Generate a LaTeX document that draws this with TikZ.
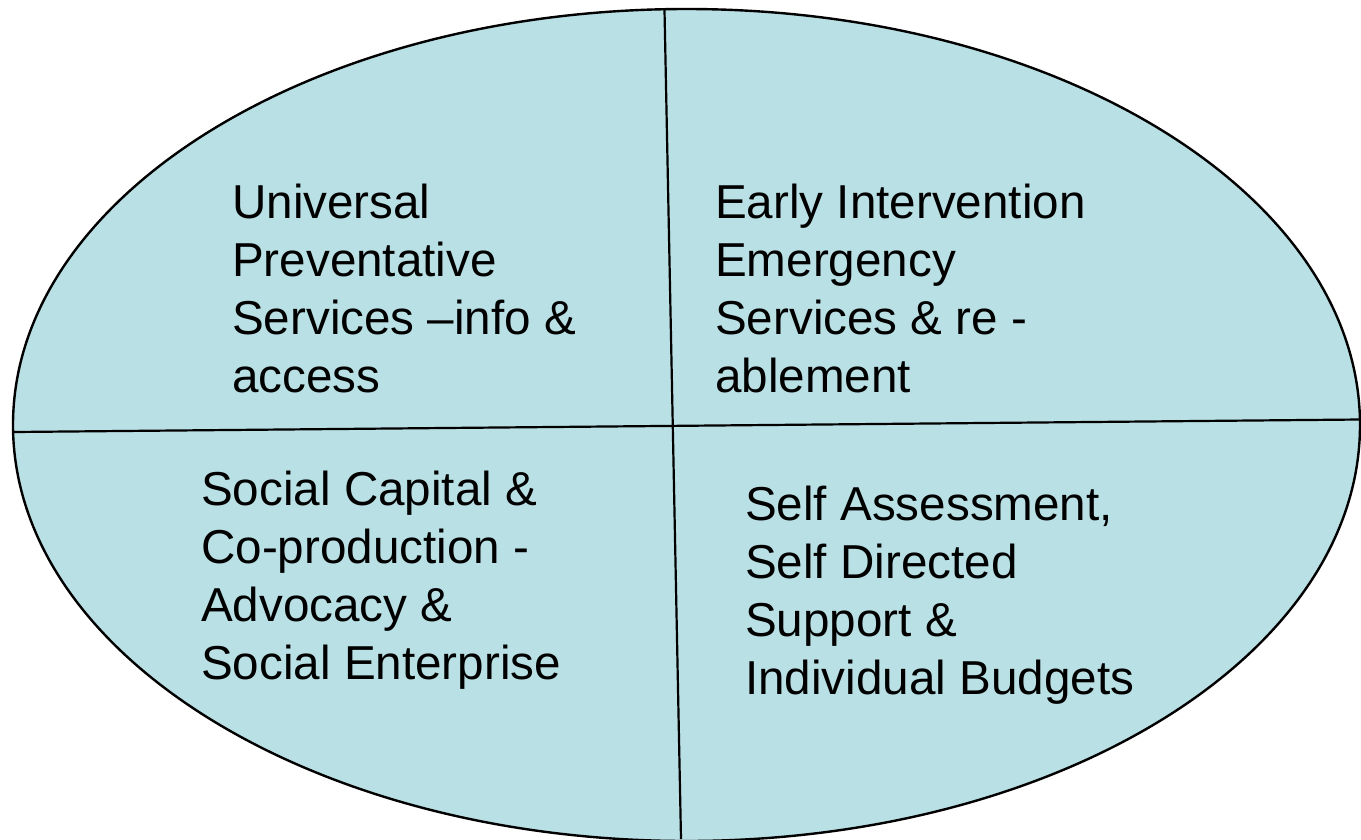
\documentclass[tikz,border=0pt]{standalone}
\usepackage{fontspec}
\setmainfont{Liberation Sans}
\usetikzlibrary{shapes.geometric}
\definecolor{quadfill}{RGB}{185,224,228}
\begin{document}
\begin{tikzpicture}[x=1pt,y=-1pt,
  outline/.style={draw=black,line width=2.4pt,fill=quadfill},
  divider/.style={draw=black,line width=2.2pt},
  label/.style={anchor=base west,inner sep=0pt,font={\fontsize{47.6}{58}\selectfont}}]
\useasboundingbox (0,0) rectangle (1361,839);
\fill[white] (0,0) rectangle (1361,839);
\node[outline,ellipse,minimum width=1347,minimum height=832,inner sep=0pt] (oval) at (686.5,425) {};
\coordinate (hl) at (14,432);
\coordinate (hr) at (1360,419.5);
\coordinate (vt) at (664.5,10);
\coordinate (vb) at (681,839);
\draw[divider] (hl) -- (hr);
\draw[divider] (vt) -- (vb);
\node[label] (q1) at (232,218) {\begin{tabular}[t]{@{}l@{}}Universal\\Preventative\\Services –info \&\\access\end{tabular}};
\node[label] (q2) at (715,218) {\begin{tabular}[t]{@{}l@{}}Early Intervention\\Emergency\\Services \& re -\\ablement\end{tabular}};
\node[label] (q3) at (201,505) {\begin{tabular}[t]{@{}l@{}}Social Capital \&\\Co-production -\\Advocacy \&\\Social Enterprise\end{tabular}};
\node[label] (q4) at (745,520) {\begin{tabular}[t]{@{}l@{}}Self Assessment,\\Self Directed\\Support \&\\Individual Budgets\end{tabular}};
\end{tikzpicture}
\end{document}
